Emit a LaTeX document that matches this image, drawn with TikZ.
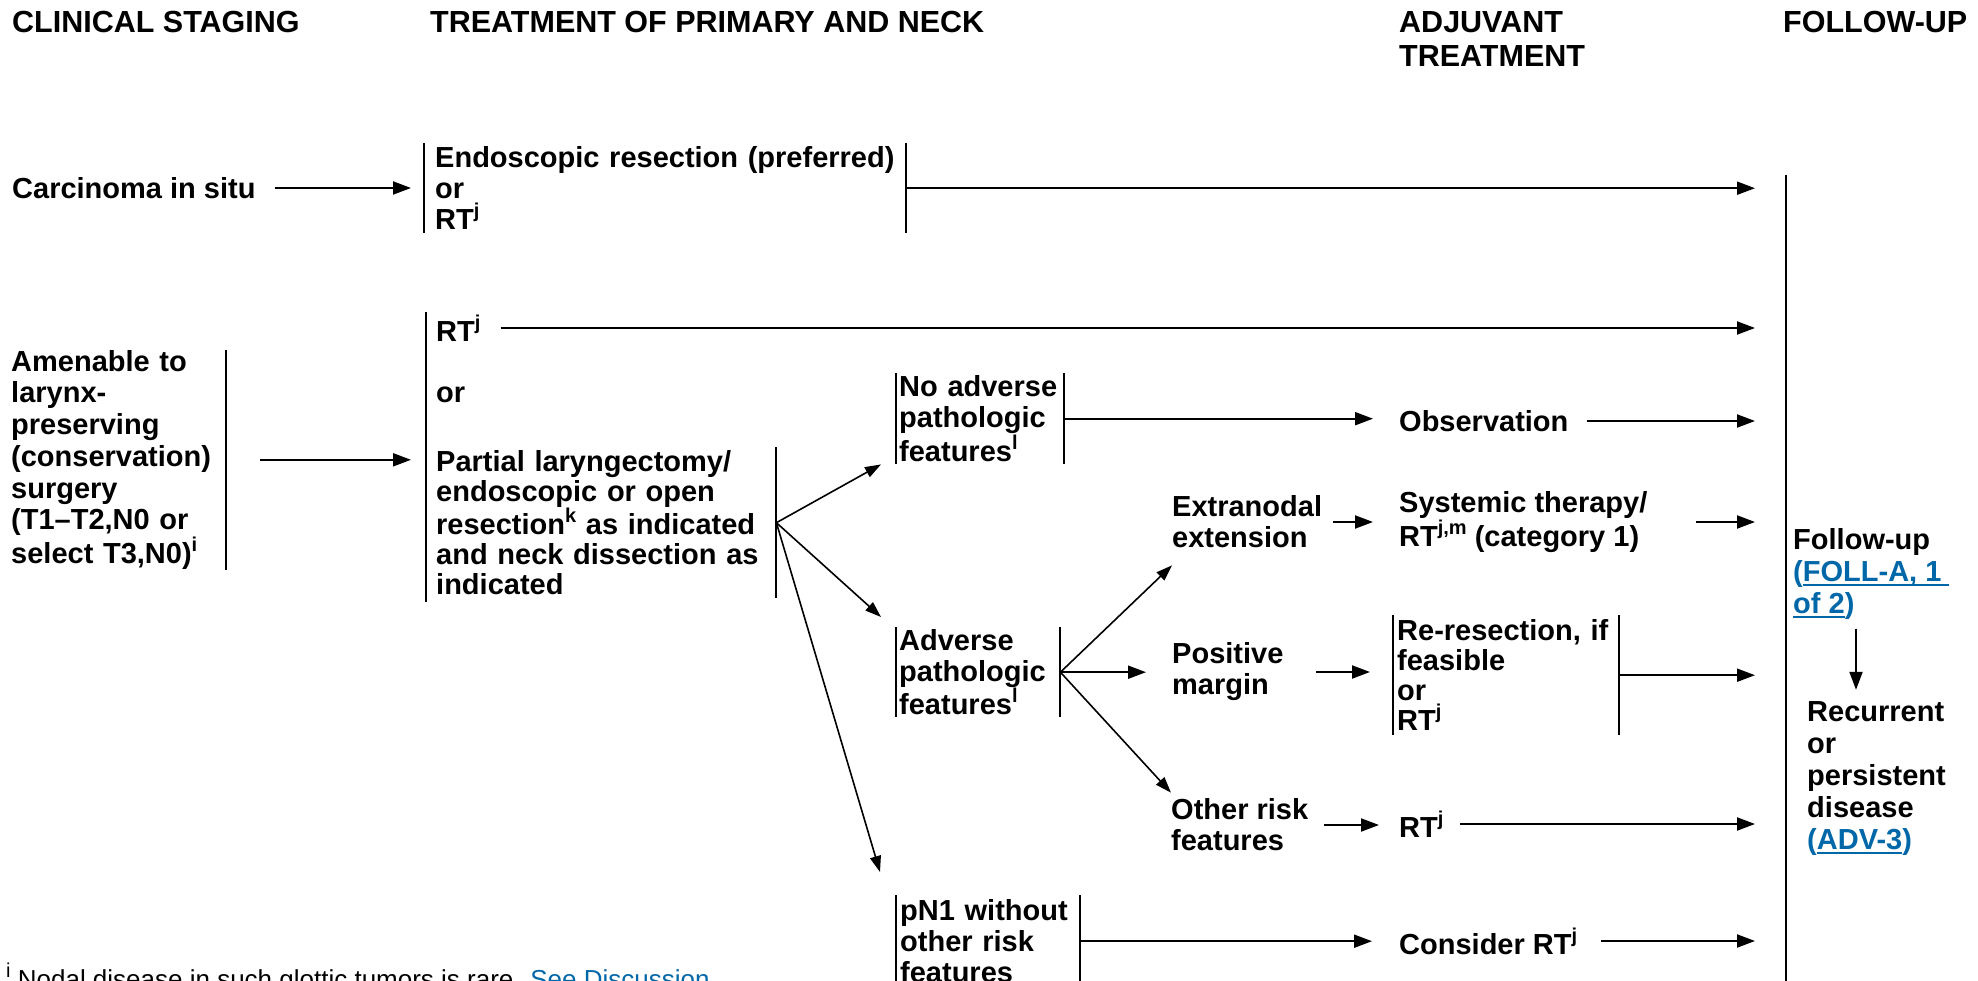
\documentclass[tikz,border=0pt]{standalone}
\usepackage{fontspec}
\setmainfont{Liberation Sans}
\usetikzlibrary{arrows.meta}
\definecolor{lnkc}{RGB}{0,103,168}
\newcommand\bodyf[1]{\fontsize{29}{#1}\selectfont\bfseries}
\newcommand\hdrf{\fontsize{30.5}{34}\selectfont\bfseries}
\newcommand\notef{\fontsize{26}{30}\selectfont}
\newcommand\spr[1]{\raisebox{0.42em}{\fontsize{20}{20}\selectfont #1}}
\newcommand\lk[1]{\setbox0=\hbox{#1}\rlap{\rule[-4pt]{\wd0}{2pt}}\box0}
\begin{document}
\begin{tikzpicture}[x=1pt,y=-1pt,
  hdr/.style={font=\hdrf, inner sep=0pt, anchor=base west},
  txt/.style={font=\bodyf{31}, align=left, inner sep=0pt},
  blk/.style={font=\bodyf{31}, align=left, inner ysep=0pt, anchor=north west},
  barln/.style={line width=2pt},
  arr/.style={line width=2pt, -{Triangle[length=18pt,width=13pt]}},
  darr/.style={line width=1.6pt, -{Triangle[length=16pt,width=11pt]}}]
\useasboundingbox (0,0) rectangle (1978,981);
\clip (0,0) rectangle (1978,981);
\fill[white] (0,0) rectangle (1978,981);

% headers
\node[hdr] (h1) at (12,33) {CLINICAL STAGING};
\node[hdr] (h2) at (430,33) {TREATMENT OF PRIMARY AND NECK};
\node[txt, font=\hdrf, anchor=north west] (h3) at (1399,11) {ADJUVANT\\TREATMENT};
\node[hdr] (h4) at (1783,33) {FOLLOW-UP};

% row 1
\node[txt, anchor=west] (cis) at (12,188) {Carcinoma in situ};
\node[blk, inner xsep=11pt, text width=460pt, minimum height=90pt] (endo) at (424,143)
  {Endoscopic resection (preferred)\\or\\RT\spr{j}};
\draw[barln] (endo.north west) -- (endo.south west);
\draw[barln] (endo.north east) -- (endo.south east);

% row 2
\node[blk, font=\bodyf{31.7}, inner xsep=0pt, text width=215pt, minimum height=215pt] (amen) at (11,350)
  {Amenable to\\larynx-\\preserving\\(conservation)\\surgery\\(T1--T2,N0 or\\select T3,N0)\spr{i}};
\draw[barln] (amen.north east) -- (amen.south east);

\node[inner sep=0pt, minimum height=290pt, anchor=north west] (trt) at (425,312) {};
\draw[barln] (trt.north) -- (trt.south);
\node[txt, anchor=west] (rt1) at (436,328) {RT\spr{j}};
\node[txt, anchor=west] (or1) at (436,395) {or};
\node[blk, font=\bodyf{30}, inner xsep=11pt, text width=329pt, minimum height=151pt] (part) at (425,447)
  {Partial laryngectomy/\\endoscopic or open\\resection\spr{k} as indicated\\and neck dissection as\\indicated};
\draw[barln] (part.north east) -- (part.south east);

\node[blk, inner xsep=3pt, text width=162pt, minimum height=91pt] (noadv) at (896,373)
  {No adverse\\pathologic\\features\spr{l}};
\draw[barln] (noadv.north west) -- (noadv.south west);
\draw[barln] (noadv.north east) -- (noadv.south east);

\node[blk, inner xsep=3pt, text width=158pt, minimum height=90pt] (adv) at (896,627)
  {Adverse\\pathologic\\features\spr{l}};
\draw[barln] (adv.north west) -- (adv.south west);
\draw[barln] (adv.north east) -- (adv.south east);

\node[blk, inner xsep=4pt, text width=176pt, minimum height=92pt] (pn1) at (896,895)
  {pN1 without\\other risk\\features};
\draw[barln] (pn1.north west) -- (pn1.south west);
\draw[barln] (pn1.north east) -- (pn1.south east);

\node[txt, anchor=west] (obs) at (1399,421) {Observation};
\node[txt, anchor=west] (ext) at (1172,522) {Extranodal\\extension};
\node[txt, anchor=west] (sys) at (1399,522) {Systemic therapy/\\RT\spr{j,m} (category 1)};
\node[txt, anchor=west] (pos) at (1172,672) {Positive\\margin};
\node[blk, font=\bodyf{30}, inner xsep=4pt, text width=218pt, minimum height=120pt] (re) at (1393,615)
  {Re-resection, if\\feasible\\or\\RT\spr{j}};
\draw[barln] (re.north west) -- (re.south west);
\draw[barln] (re.north east) -- (re.south east);
\node[txt, anchor=west] (oth) at (1171,825) {Other risk\\features};
\node[txt, anchor=west] (rt2) at (1399,824) {RT\spr{j}};
\node[txt, anchor=west] (con) at (1399,941) {Consider RT\spr{j}};

% follow-up column
\draw[line width=2.5pt] (1786,175) -- (1786,981);
\coordinate (fuin) at (1755,0);
\coordinate (dnx) at (1856,0);
\node[txt, font=\bodyf{32}, anchor=west] (fu) at (1793,574)
  {Follow-up\\\textcolor{lnkc}{(\lk{FOLL-A, 1\ }}\\\textcolor{lnkc}{\lk{of 2})}};
\node[txt, font=\bodyf{32}, anchor=west] (rec) at (1807,779)
  {Recurrent\\or\\persistent\\disease\\\textcolor{lnkc}{(\lk{ADV-3})}};

% footnote
\node[anchor=base west, inner sep=0pt, font=\notef] (fn) at (6,988)
  {\spr{i} Nodal disease in such glottic tumors is rare. \textcolor{lnkc}{See Discussion}};

% connectors
\draw[arr, shorten <=19pt, shorten >=13pt] (cis.east) -- (cis.east -| endo.west);
\draw[arr] (endo.east) -- (endo.east -| fuin);
\draw[arr, shorten <=34pt, shorten >=14pt] (amen.east) -- (amen.east -| trt.west);
\draw[arr, shorten <=20pt] (rt1.east) -- (rt1.east -| fuin);
\draw[darr] (part.east) -- ([xshift=-15pt]noadv.south west);
\draw[darr] (part.east) -- ([xshift=-15pt,yshift=10pt]adv.north west);
\draw[darr] (part.east) -- ([xshift=-16pt,yshift=23pt]pn1.north west);
\draw[arr, shorten >=26pt] (noadv.east) -- (noadv.east -| obs.west);
\draw[arr, shorten <=18pt] (obs.east) -- (obs.east -| fuin);
\draw[darr] (adv.east) -- ([yshift=-17pt]ext.south west);
\draw[arr, shorten >=26pt] (adv.east) -- (adv.east -| pos.west);
\draw[darr] (adv.east) -- ([yshift=6pt]oth.north west);
\draw[arr, shorten <=11pt, shorten >=26pt] (ext.east) -- (ext.east -| sys.west);
\draw[arr, shorten <=48pt] (sys.east) -- (sys.east -| fuin);
\draw[arr, shorten <=32pt, shorten >=23pt] (pos.east) -- (pos.east -| re.west);
\draw[arr] (re.east) -- (re.east -| fuin);
\draw[arr, shorten <=16pt, shorten >=20pt] (oth.east) -- (oth.east -| rt2.west);
\draw[arr, shorten <=16pt] (rt2.east) -- (rt2.east -| fuin);
\draw[arr, shorten >=27pt] (pn1.east) -- (pn1.east -| con.west);
\draw[arr, shorten <=24pt] (con.east) -- (con.east -| fuin);
\draw[arr, shorten <=9pt, shorten >=12pt] (fu.south -| dnx) -- (rec.north -| dnx);
\end{tikzpicture}
\end{document}
